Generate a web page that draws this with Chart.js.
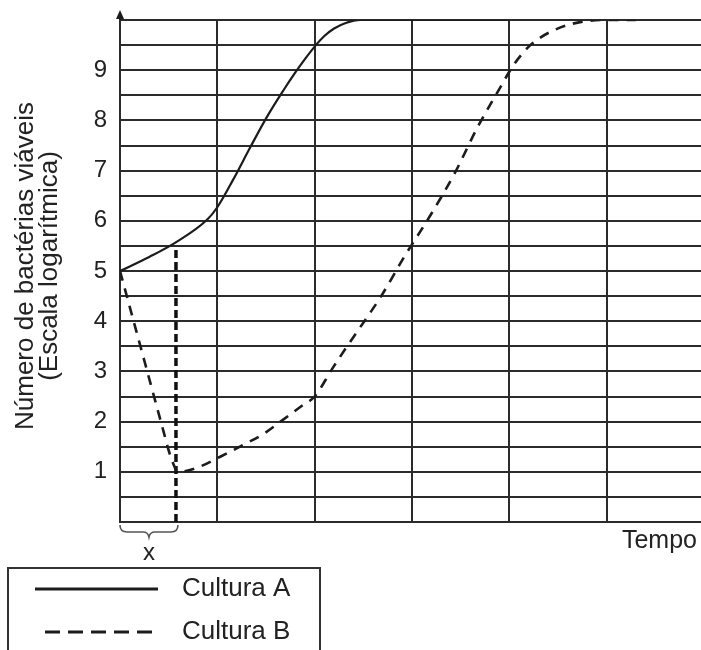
<!DOCTYPE html>
<html>
<head>
<meta charset="utf-8">
<script src="https://cdn.jsdelivr.net/npm/chart.js@4/dist/chart.umd.min.js"></script>
<style>
  html, body { margin: 0; padding: 0; background: #fff; }
  canvas { display: block; }
</style>
</head>
<body>
<canvas id="c" width="701" height="650"></canvas>
<script>
// ---- Data ----
const timeA = [0, 0.3, 0.565, 0.894, 1.0, 1.16, 1.34, 1.51, 1.68, 1.8, 1.9, 2.0, 2.1, 2.2, 2.32, 2.47, 3.0, 4.0];
const cultureA = [5.0, 5.28, 5.56, 6.02, 6.27, 6.81, 7.47, 8.07, 8.6, 8.95, 9.22, 9.47, 9.68, 9.83, 9.94, 10.0, 10.0, 10.0];

const timeB = [0, 0.14, 0.28, 0.42, 0.53, 0.6, 0.79, 1.03, 1.26, 1.47, 1.67, 1.88, 2.0, 2.18, 2.33, 2.69, 2.92, 3.18, 3.44, 3.67, 3.8, 3.92, 4.0, 4.1, 4.2, 4.32, 4.44, 4.6, 4.8, 5.0, 5.3];
const cultureB = [5.0, 4.0, 3.0, 2.0, 1.25, 1.0, 1.08, 1.3, 1.53, 1.75, 2.03, 2.33, 2.5, 3.05, 3.49, 4.52, 5.28, 6.08, 6.95, 7.85, 8.3, 8.7, 8.97, 9.25, 9.47, 9.65, 9.78, 9.9, 9.98, 10.0, 10.0];

const markerTime = [0.575, 0.575];
const markerValue = [0, 5.42];

const yLabels = [1, 2, 3, 4, 5, 6, 7, 8, 9];
const titleLines = ["Número de bactérias viáveis", "(Escala logarítmica)"];
const xTitle = "Tempo";
const braceLabel = "x";
const legendLabels = ["Cultura A", "Cultura B"];

const INK = '#1c1c1c';
const GRID = '#2b2b2b';
const TEXT = '#222';
const FONT = "'Liberation Sans', Arial, Helvetica, sans-serif";

const toPts = (xs, ys) => xs.map((x, i) => ({ x: x, y: ys[i] }));

const decor = {
  id: 'decor',
  afterDraw(chart) {
    const ctx = chart.ctx;
    const y = chart.scales.y, x = chart.scales.x;
    const left = x.getPixelForValue(0);
    const top = y.getPixelForValue(10);
    const bottom = y.getPixelForValue(0);
    ctx.save();
    ctx.fillStyle = INK;
    ctx.strokeStyle = INK;

    // y axis arrow
    ctx.lineWidth = 2;
    ctx.beginPath();
    ctx.moveTo(left, top);
    ctx.lineTo(left, top - 6);
    ctx.stroke();
    ctx.beginPath();
    ctx.moveTo(left, top - 10);
    ctx.lineTo(left - 4, top - 1);
    ctx.lineTo(left + 4, top - 1);
    ctx.closePath();
    ctx.fill();

    // y title
    const midY = 266;
    ctx.font = '26px ' + FONT;
    ctx.textAlign = 'center';
    ctx.textBaseline = 'alphabetic';
    ctx.fillStyle = TEXT;
    [[33, titleLines[0]], [57, titleLines[1]]].forEach(([bx, t]) => {
      ctx.save();
      ctx.translate(bx, midY);
      ctx.rotate(-Math.PI / 2);
      ctx.fillText(t, 0, 0);
      ctx.restore();
    });

    // x title
    ctx.font = '25px ' + FONT;
    ctx.textAlign = 'right';
    ctx.fillText(xTitle, 697, 548);

    // brace under the lag interval
    const bx0 = left, bx1 = x.getPixelForValue(markerTime[0]) + 2;
    const bm = (bx0 + bx1) / 2;
    ctx.strokeStyle = '#555';
    ctx.lineWidth = 1.6;
    ctx.beginPath();
    ctx.moveTo(bx0, bottom + 3);
    ctx.quadraticCurveTo(bx0, bottom + 10, bx0 + 7, bottom + 10);
    ctx.lineTo(bm - 6, bottom + 10);
    ctx.quadraticCurveTo(bm - 1, bottom + 10, bm, bottom + 15);
    ctx.quadraticCurveTo(bm + 1, bottom + 10, bm + 6, bottom + 10);
    ctx.lineTo(bx1 - 7, bottom + 10);
    ctx.quadraticCurveTo(bx1, bottom + 10, bx1, bottom + 3);
    ctx.stroke();
    ctx.font = '24px ' + FONT;
    ctx.textAlign = 'center';
    ctx.fillText(braceLabel, bm, 560);

    // legend box
    ctx.strokeStyle = '#333';
    ctx.lineWidth = 2;
    ctx.strokeRect(8, 568, 312, 110);
    ctx.strokeStyle = INK;
    ctx.lineWidth = 3;
    ctx.beginPath();
    ctx.moveTo(35, 589);
    ctx.lineTo(158, 589);
    ctx.stroke();
    ctx.setLineDash([15, 8]);
    ctx.beginPath();
    ctx.moveTo(45, 632);
    ctx.lineTo(158, 632);
    ctx.stroke();
    ctx.setLineDash([]);
    ctx.font = '26px ' + FONT;
    ctx.textAlign = 'left';
    ctx.fillStyle = TEXT;
    ctx.fillText(legendLabels[0], 182, 596);
    ctx.fillText(legendLabels[1], 182, 639);
    ctx.restore();
  }
};

new Chart(document.getElementById('c'), {
  type: 'scatter',
  data: {
    datasets: [
      {
        label: legendLabels[0],
        data: toPts(timeA, cultureA),
        showLine: true,
        borderColor: INK,
        borderWidth: 2.2,
        pointRadius: 0,
        cubicInterpolationMode: 'monotone'
      },
      {
        label: legendLabels[1],
        data: toPts(timeB, cultureB),
        showLine: true,
        borderColor: INK,
        borderWidth: 2.6,
        borderDash: [10, 8],
        pointRadius: 0,
        cubicInterpolationMode: 'monotone'
      },
      {
        label: 'x',
        data: toPts(markerTime, markerValue),
        showLine: true,
        borderColor: '#111',
        borderWidth: 3.5,
        borderDash: [8, 4],
        pointRadius: 0
      }
    ]
  },
  options: {
    responsive: false,
    animation: false,
    events: [],
    layout: { padding: { top: 20, bottom: 128, left: 0, right: 0 } },
    plugins: { legend: { display: false }, tooltip: { enabled: false } },
    scales: {
      x: {
        type: 'linear',
        min: 0,
        max: 5.97,
        ticks: { display: false, stepSize: 1, includeBounds: false },
        grid: { color: GRID, lineWidth: 2, drawTicks: false },
        border: { color: GRID, width: 2 },
        afterFit: s => { s.height = 0; s.paddingLeft = 0; s.paddingRight = 0; }
      },
      y: {
        min: 0,
        max: 10,
        ticks: {
          stepSize: 0.5,
          autoSkip: false,
          padding: 13,
          color: TEXT,
          font: { family: FONT, size: 24 },
          callback: v => (yLabels.includes(v) ? String(v) : '')
        },
        grid: { color: GRID, lineWidth: 2, drawTicks: false },
        border: { color: GRID, width: 2 },
        afterFit: s => { s.width = 120; s.paddingTop = 0; s.paddingBottom = 0; }
      }
    }
  },
  plugins: [decor]
});
</script>
</body>
</html>
